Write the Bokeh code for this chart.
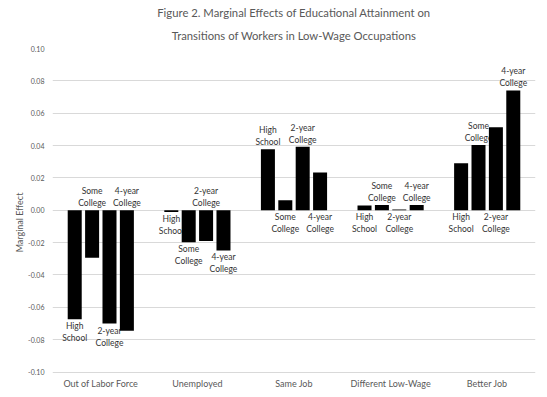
from bokeh.plotting import figure
from bokeh.models import ColumnDataSource, FactorRange, Range1d, Title, NumeralTickFormatter, FixedTicker
from bokeh.transform import dodge
from bokeh.core.properties import value
from bokeh.embed import file_html
from bokeh.resources import INLINE

# ---- data ----
categories = ["Out of Labor Force", "Unemployed", "Same Job", "Different Low-Wage", "Better Job"]
level_labels = ["High\nSchool", "Some\nCollege", "2-year\nCollege", "4-year\nCollege"]
high_school = [-0.0673, -0.0010, 0.0377, 0.0030, 0.0290]
some_college = [-0.0294, -0.0197, 0.0062, 0.0032, 0.0404]
two_year_college = [-0.0700, -0.0190, 0.0393, 0.0005, 0.0514]
four_year_college = [-0.0745, -0.0248, 0.0234, 0.0033, 0.0741]
y_ticks = [-0.10, -0.08, -0.06, -0.04, -0.02, 0.00, 0.02, 0.04, 0.06, 0.08, 0.10]
title_line1 = "Figure 2. Marginal Effects of Educational Attainment on"
title_line2 = "Transitions of Workers in Low-Wage Occupations"
y_label = "Marginal Effect"

# label placement (above / below the bar end)
placement = [
    ["below", "below", "above", "below", "below"],
    ["above", "below", "below", "above", "above"],
    ["below", "above", "above", "below", "below"],
    ["above", "below", "below", "above", "above"],
]

series = [high_school, some_college, two_year_college, four_year_college]
offsets = [-0.27, -0.09, 0.09, 0.27]
BAR_W = 0.145
FONT = "Lato"
GRAY = "#595959"
BOTTOM_PAD = 0.0151   # room below the lowest gridline for the category labels

p = figure(
    x_range=FactorRange(factors=categories, range_padding=0, factor_padding=0),
    y_range=Range1d(y_ticks[0] - BOTTOM_PAD, y_ticks[-1]),
    width=546, height=396, x_axis_location=None,
    output_backend="svg", toolbar_location=None, title=None,
    min_border_left=52, min_border_right=11, min_border_top=48, min_border_bottom=0,
)
p.outline_line_color = None
p.background_fill_color = "white"
p.border_fill_color = "white"

for vals, lab, off, pl in zip(series, level_labels, offsets, placement):
    src = ColumnDataSource(dict(cat=categories, val=vals))
    p.vbar(x=dodge("cat", off, range=p.x_range), top="val", bottom=0, width=BAR_W,
           source=src, fill_color="black", line_color=None)
    for kind in ("above", "below"):
        idx = [j for j in range(len(categories)) if pl[j] == kind]
        if not idx:
            continue
        ys = [max(vals[j], 0) if kind == "above" else min(vals[j], 0) for j in idx]
        lsrc = ColumnDataSource(dict(cat=[categories[j] for j in idx], y=ys, t=[lab] * len(idx)))
        p.text(x=dodge("cat", off, range=p.x_range), y="y", text="t", source=lsrc,
               text_align="center",
               text_baseline="bottom" if kind == "above" else "top",
               y_offset=-2 if kind == "above" else 2,
               text_font=value(FONT), text_font_size="8.5px", text_color="#333333",
               text_line_height=1.2)

# category labels under the lowest gridline
cat_src = ColumnDataSource(dict(cat=categories, y=[y_ticks[0]] * len(categories)))
p.text(x="cat", y="y", text="cat", source=cat_src, text_align="center",
       text_baseline="top", y_offset=6, text_font=value(FONT),
       text_font_size="9px", text_color=GRAY)

# y axis
p.yaxis.ticker = FixedTicker(ticks=y_ticks)
p.yaxis.formatter = NumeralTickFormatter(format="0.00")
p.yaxis.axis_line_color = None
p.yaxis.major_tick_line_color = None
p.yaxis.minor_tick_line_color = None
p.yaxis.major_tick_out = 0
p.yaxis.major_tick_in = 0
p.yaxis.minor_tick_out = 0
p.yaxis.minor_tick_in = 0
p.yaxis.major_label_text_font = FONT
p.yaxis.major_label_text_font_size = "7px"
p.yaxis.major_label_text_color = GRAY
p.yaxis.major_label_standoff = 8
p.yaxis.axis_label = y_label
p.yaxis.axis_label_text_font = FONT
p.yaxis.axis_label_text_font_size = "9px"
p.yaxis.axis_label_text_font_style = "normal"
p.yaxis.axis_label_text_color = GRAY
p.yaxis.axis_label_standoff = 0

# grid
p.xgrid.grid_line_color = None
p.ygrid.ticker = FixedTicker(ticks=y_ticks)
p.ygrid.grid_line_color = "#d9d9d9"

# titles
p.add_layout(Title(text=title_line2, align="center", offset=-28, standoff=13,
                   text_font=FONT, text_font_size="11.3px", text_font_style="normal",
                   text_color=GRAY), "above")
p.add_layout(Title(text=title_line1, align="center", offset=-28, standoff=3,
                   text_font=FONT, text_font_size="11.3px", text_font_style="normal",
                   text_color=GRAY), "above")

open("out.html", "w").write(file_html(p, INLINE))
